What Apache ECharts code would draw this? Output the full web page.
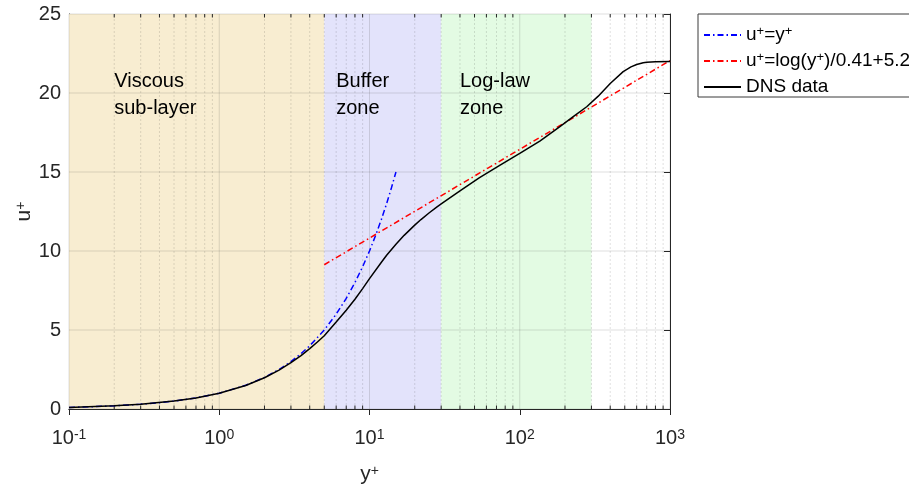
<!DOCTYPE html>
<html><head><meta charset="utf-8">
<script src="https://cdn.jsdelivr.net/npm/echarts@6/dist/echarts.min.js"></script>
<style>html,body{margin:0;padding:0;background:#fff}#c{width:909px;height:486px}</style>
</head><body><div id="c"></div>
<script>
// ---- data ----
var linearYp = [0.1, 0.15, 0.2, 0.3, 0.4, 0.5, 0.7, 1, 1.5, 2, 2.5, 3, 3.5, 4, 5, 6, 7, 8, 9, 10, 11, 12, 13, 14, 15];
var linearUp = [0.1, 0.15, 0.2, 0.3, 0.4, 0.5, 0.7, 1, 1.5, 2, 2.5, 3, 3.5, 4, 5, 6, 7, 8, 9, 10, 11, 12, 13, 14, 15];
var logLawYp = [5, 1000];
var logLawUp = [9.13, 22.05];
var dnsYp = [0.1, 0.2, 0.3, 0.5, 0.7, 1, 1.5, 2, 2.5, 3, 3.5, 4, 4.5, 5, 6, 7, 8, 9, 10, 12, 13, 15, 17, 20, 22, 25, 28, 30, 40, 54, 74, 100, 136, 185, 227, 279, 333, 400, 488, 550, 600, 663, 700, 800, 1000];
var dnsUp = [0.1, 0.2, 0.3, 0.5, 0.7, 1.0, 1.49, 1.98, 2.46, 2.93, 3.38, 3.82, 4.24, 4.64, 5.5, 6.25, 6.95, 7.62, 8.25, 9.29, 9.73, 10.43, 10.99, 11.64, 11.99, 12.42, 12.78, 12.98, 13.8, 14.64, 15.44, 16.18, 16.96, 17.87, 18.5, 19.13, 19.8, 20.6, 21.35, 21.65, 21.8, 21.92, 21.95, 21.98, 22.0];
var zoneStart = [0.1, 5, 30];
var zoneEnd = [5, 30, 300];
var zoneColors = ['#f8edd1', '#e3e3fb', '#e3fbe3'];
var zoneLabels = ['Viscous\nsub-layer', 'Buffer\nzone', 'Log-law\nzone'];
var zoneLabelX = [0.2, 6, 40];
var zoneLabelY = 19.9;
var xMajor = [0.1, 1, 10, 100, 1000];
var xMinorMult = [2, 3, 4, 5, 6, 7, 8, 9];
var yTicks = [0, 5, 10, 15, 20, 25];
var seriesNames = ['u+=y+', 'u+=log(y+)/0.41+5.2', 'DNS data'];
var seriesRich = ['u{sup|+}=y{sup|+}', 'u{sup|+}=log(y{sup|+})/0.41+5.2', 'DNS data'];

function pairs(a, b) { return a.map(function (v, i) { return [v, b[i]]; }); }
var xMinor = [];
[0.1, 1, 10, 100].forEach(function (d) { xMinorMult.forEach(function (m) { xMinor.push(+(d * m).toPrecision(3)); }); });

var FONT = 'Liberation Sans, Arial, sans-serif';
var AX = '#262626';
var chart = echarts.init(document.getElementById('c'));

var zoneData = zoneStart.map(function (s, i) { return [s, 0, zoneEnd[i], i]; });
var xMajorData = xMajor.map(function (v) { return [v, 0]; });
var xMinorData = xMinor.map(function (v) { return [v, 0]; });
var yGridData = yTicks.map(function (v) { return [1, v]; });

var option = {
  animation: false,
  grid: { left: 69, right: 239, top: 14, bottom: 77, containLabel: false, outerBoundsMode: 'none' },
  xAxis: [{
    type: 'log', logBase: 10, min: 0.1, max: 1000, position: 'bottom',
    name: 'y{sup|+}', nameLocation: 'middle', nameGap: 55, nameMoveOverlap: false,
    nameTextStyle: { fontFamily: FONT, fontSize: 21, color: AX, rich: { sup: { fontSize: 14, verticalAlign: 'top', lineHeight: 12 } } },
    axisLine: { show: true, lineStyle: { color: AX, width: 1 } },
    axisTick: { show: true, inside: true, length: 6, lineStyle: { color: AX } },
    splitLine: { show: false },
    axisLabel: {
      margin: 19, color: AX, fontFamily: FONT, fontSize: 20,
      formatter: function (v) { var e = Math.round(Math.log10(v)); return '10{sup|' + e + '}'; },
      rich: { sup: { fontSize: 14, verticalAlign: 'top', lineHeight: 14 } }
    }
  }, {
    type: 'log', logBase: 10, min: 0.1, max: 1000, position: 'top',
    axisLine: { show: true, lineStyle: { color: AX, width: 1 } },
    axisTick: { show: true, inside: true, length: 6, lineStyle: { color: AX } },
    axisLabel: { show: false }, splitLine: { show: false }
  }],
  yAxis: [{
    type: 'value', min: 0, max: 25, interval: 5, position: 'left',
    name: 'u{sup|+}', nameLocation: 'middle', nameGap: 34, nameRotate: 90, nameMoveOverlap: false,
    nameTextStyle: { fontFamily: FONT, fontSize: 21, color: AX, rich: { sup: { fontSize: 14, verticalAlign: 'top', lineHeight: 12 } } },
    axisLine: { show: true, lineStyle: { color: AX, width: 1 } },
    axisTick: { show: true, inside: true, length: 6, lineStyle: { color: AX } },
    splitLine: { show: false },
    axisLabel: { margin: 8, color: AX, fontFamily: FONT, fontSize: 20 }
  }, {
    type: 'value', min: 0, max: 25, interval: 5, position: 'right',
    axisLine: { show: true, lineStyle: { color: AX, width: 1 } },
    axisTick: { show: true, inside: true, length: 6, lineStyle: { color: AX } },
    axisLabel: { show: false }, splitLine: { show: false }
  }],
  legend: {
    orient: 'vertical', left: 698, top: 14,
    data: seriesNames,
    backgroundColor: '#fff', borderColor: '#3a3a3a', borderWidth: 1,
    padding: [11, 10, 0, 5], itemGap: 6, itemWidth: 37, itemHeight: 14,
    itemStyle: { color: 'rgba(0,0,0,0)', borderColor: 'rgba(0,0,0,0)', borderWidth: 0 },
    formatter: function (n) { return seriesRich[seriesNames.indexOf(n)]; },
    textStyle: { fontFamily: FONT, fontSize: 19, color: '#000', lineHeight: 20, padding: [0, 0, 0, 0],
      rich: { sup: { fontSize: 13, verticalAlign: 'top', lineHeight: 10 } } }
  },
  series: [
    {
      type: 'custom', name: 'zones', z: 1, silent: true, clip: true,
      data: zoneData, encode: { x: [0, 2], y: 1 },
      renderItem: function (params, api) {
        var i = api.value(3);
        var p0 = api.coord([api.value(0), 25]);
        var p1 = api.coord([api.value(2), 0]);
        var lp = api.coord([zoneLabelX[i], zoneLabelY]);
        return { type: 'group', children: [
          { type: 'rect', shape: { x: p0[0], y: p0[1], width: p1[0] - p0[0], height: p1[1] - p0[1] }, style: { fill: zoneColors[i] } },
          { type: 'text', x: lp[0], y: lp[1], style: { text: zoneLabels[i], fontFamily: FONT, fontSize: 20, lineHeight: 27, fill: '#000', verticalAlign: 'middle', align: 'left' } }
        ] };
      }
    },
    {
      type: 'custom', name: 'xminor', z: 2, silent: true,
      data: xMinorData, encode: { x: 0, y: 1 },
      renderItem: function (params, api) {
        var b = api.coord([api.value(0), 0]);
        var t = api.coord([api.value(0), 25]);
        return { type: 'group', children: [
          { type: 'line', shape: { x1: b[0], y1: b[1], x2: t[0], y2: t[1] }, style: { stroke: 'rgba(38,38,38,0.14)', lineWidth: 1, lineDash: [2, 2] } },
          { type: 'line', shape: { x1: b[0], y1: b[1], x2: b[0], y2: b[1] - 3.5 }, style: { stroke: AX, lineWidth: 1 } },
          { type: 'line', shape: { x1: t[0], y1: t[1], x2: t[0], y2: t[1] + 3.5 }, style: { stroke: AX, lineWidth: 1 } }
        ] };
      }
    },
    {
      type: 'custom', name: 'xmajor', z: 2, silent: true,
      data: xMajorData, encode: { x: 0, y: 1 },
      renderItem: function (params, api) {
        var b = api.coord([api.value(0), 0]);
        var t = api.coord([api.value(0), 25]);
        return { type: 'line', shape: { x1: b[0], y1: b[1], x2: t[0], y2: t[1] }, style: { stroke: 'rgba(38,38,38,0.15)', lineWidth: 1 } };
      }
    },
    {
      type: 'custom', name: 'ygrid', z: 2, silent: true,
      data: yGridData, encode: { x: 0, y: 1 },
      renderItem: function (params, api) {
        var l = api.coord([0.1, api.value(1)]);
        var r = api.coord([1000, api.value(1)]);
        return { type: 'line', shape: { x1: l[0], y1: l[1], x2: r[0], y2: r[1] }, style: { stroke: 'rgba(38,38,38,0.15)', lineWidth: 1 } };
      }
    },
    {
      type: 'line', name: seriesNames[0], z: 5, data: pairs(linearYp, linearUp),
      showSymbol: false, symbol: 'none',
      lineStyle: { color: '#0000ff', width: 1.5, type: [6, 3, 1.5, 3] }, itemStyle: { color: '#0000ff' }
    },
    {
      type: 'line', name: seriesNames[1], z: 5, data: pairs(logLawYp, logLawUp),
      showSymbol: false, symbol: 'none',
      lineStyle: { color: '#ff0000', width: 1.5, type: [6, 3, 1.5, 3] }, itemStyle: { color: '#ff0000' }
    },
    {
      type: 'line', name: seriesNames[2], z: 5, data: pairs(dnsYp, dnsUp),
      showSymbol: false, symbol: 'none', smooth: false,
      lineStyle: { color: '#000', width: 1.5 }, itemStyle: { color: '#000' }
    }
  ]
};
chart.setOption(option);
</script></body></html>
